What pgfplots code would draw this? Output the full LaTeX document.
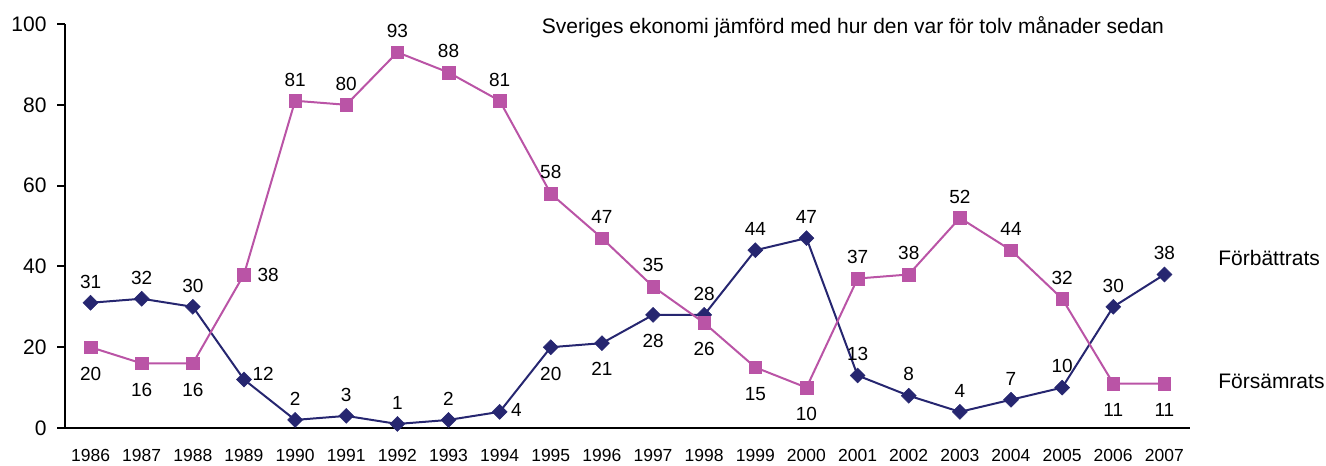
\documentclass[border=0pt]{standalone}
\usepackage{fontspec}
\setmainfont{Liberation Sans}
\usepackage{pgfplots}
\pgfplotsset{compat=1.18}
\definecolor{navyline}{RGB}{38,38,112}
\definecolor{magline}{RGB}{186,84,166}

\pgfplotsset{
  lblbase/.style={draw=none, mark=none, forget plot, nodes near coords, point meta=y},
  above/.style={lblbase, every node near coord/.append style={font=\fontsize{19}{21}\selectfont, text=black, anchor=south, yshift=11pt}},
  below/.style={lblbase, every node near coord/.append style={font=\fontsize{19}{21}\selectfont, text=black, anchor=north, yshift=-16pt}},
  right/.style 2 args={lblbase, every node near coord/.append style={font=\fontsize{19}{21}\selectfont, text=black, anchor=west, xshift=#1, yshift=#2}},
}

\begin{document}
\begin{tikzpicture}
\begin{axis}[
  scale only axis,
  width=1125pt, height=404pt,
  xmin=1985.5, xmax=2007.5,
  ymin=0, ymax=100,
  axis x line*=bottom, axis y line*=left,
  axis line style={line width=2pt, black},
  xtick={1986,...,2007},
  ytick={0,20,...,100},
  x tick style={draw=none},
  y tick style={line width=2pt, black},
  tick align=outside,
  major tick length=8pt,
  /pgf/number format/assume math mode=true,
  /pgf/number format/1000 sep={},
  x tick label style={font=\fontsize{17.5}{19}\selectfont, yshift=-10pt},
  y tick label style={font=\fontsize{21}{23}\selectfont, xshift=-7pt},
  clip=false,
]
% Förbättrats
\addplot[color=navyline, line width=2pt, mark=square*, mark size=5.3pt,
  mark options={fill=navyline, line width=0.5pt, rotate=45}] coordinates {
  (1986,31) (1987,32) (1988,30) (1989,12) (1990,2) (1991,3) (1992,1) (1993,2)
  (1994,4) (1995,20) (1996,21) (1997,28) (1998,28) (1999,44) (2000,47) (2001,13)
  (2002,8) (2003,4) (2004,7) (2005,10) (2006,30) (2007,38)};
% Försämrats
\addplot[color=magline, line width=2pt, mark=square*, mark size=6.3pt,
  mark options={fill=magline, line width=0.5pt}] coordinates {
  (1986,20) (1987,16) (1988,16) (1989,38) (1990,81) (1991,80) (1992,93) (1993,88)
  (1994,81) (1995,58) (1996,47) (1997,35) (1998,26) (1999,15) (2000,10) (2001,37)
  (2002,38) (2003,52) (2004,44) (2005,32) (2006,11) (2007,11)};

% value labels
\addplot[above] coordinates {
  (1986,31) (1987,32) (1988,30) (1990,2) (1991,3) (1992,1) (1993,2)
  (1998,28) (1999,44) (2000,47) (2001,13) (2002,8) (2003,4) (2004,7) (2005,10)
  (2006,30) (2007,38)};
\addplot[below] coordinates {(1995,20) (1996,21) (1997,28)};
\addplot[right={5pt}{6pt}] coordinates {(1989,12)};
\addplot[right={8pt}{2pt}] coordinates {(1994,4)};
\addplot[above] coordinates {
  (1990,81) (1991,80) (1992,93) (1993,88) (1994,81) (1995,58) (1996,47) (1997,35)
  (2001,37) (2002,38) (2003,52) (2004,44) (2005,32)};
\addplot[below] coordinates {
  (1986,20) (1987,16) (1988,16) (1998,26) (1999,15) (2000,10) (2006,11) (2007,11)};
\addplot[right={10pt}{0pt}] coordinates {(1989,38)};

\node[font=\fontsize{21}{23}\selectfont, anchor=center] at (rel axis cs:0.7004,0.993)
  {Sveriges ekonomi jämförd med hur den var för tolv månader sedan};
\node[font=\fontsize{21}{23}\selectfont, anchor=west, inner sep=0pt] at (rel axis cs:1.025,0.421) {Förbättrats};
\node[font=\fontsize{21}{23}\selectfont, anchor=west, inner sep=0pt] at (rel axis cs:1.025,0.116) {Försämrats};
\end{axis}
\path (current axis.south west) ++(-65pt,-33pt) rectangle ([xshift=136pt,yshift=24pt]current axis.north east);
\end{tikzpicture}
\end{document}
